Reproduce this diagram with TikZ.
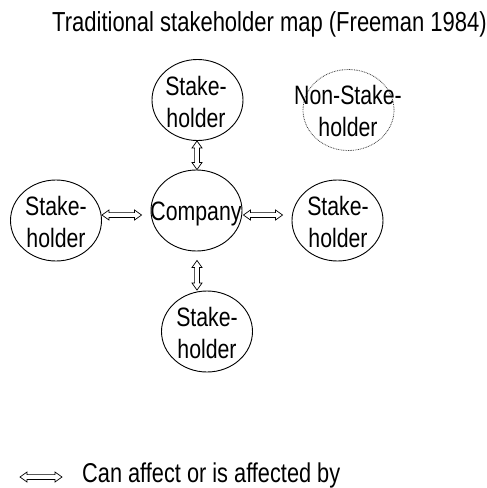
\documentclass[tikz,border=0pt]{standalone}
\usepackage{fontspec}
\setmainfont{Liberation Sans}[FakeStretch=0.8]
\usetikzlibrary{shapes.geometric,calc}
\tikzset{
  holder/.style={draw, ellipse, line width=0.9pt, minimum width=91pt, minimum height=81pt, inner sep=0pt},
  nonholder/.style={holder, line width=0.8pt, draw=black!75, dash pattern=on 0.8pt off 0.9pt},
  htext/.style={align=center, font=\fontsize{26.6}{31.4}\selectfont, inner sep=0pt},
  bigtext/.style={font=\fontsize{27.2}{33}\selectfont, inner sep=0pt},
  gapA/.store in=\gapA, gapB/.store in=\gapB,
  link/.style={gapA=0pt, gapB=0pt, draw, line width=0.7pt, fill=white, line join=miter,
    to path={let \p1=(\tikztostart), \p2=(\tikztotarget),
      \n1={atan2(\y2-\y1,\x2-\x1)}, \n2={veclen(\x2-\x1,\y2-\y1)} in
      ([shift={(\p1)},rotate=\n1]\gapA,0pt)
      -- ([shift={(\p1)},rotate=\n1]\gapA+7pt,5pt)
      -- ([shift={(\p1)},rotate=\n1]\gapA+7pt,2.4pt)
      -- ([shift={(\p1)},rotate=\n1]\n2-\gapB-7pt,2.4pt)
      -- ([shift={(\p1)},rotate=\n1]\n2-\gapB-7pt,5pt)
      -- ([shift={(\p1)},rotate=\n1]\n2-\gapB,0pt)
      -- ([shift={(\p1)},rotate=\n1]\n2-\gapB-7pt,-5pt)
      -- ([shift={(\p1)},rotate=\n1]\n2-\gapB-7pt,-2.4pt)
      -- ([shift={(\p1)},rotate=\n1]\gapA+7pt,-2.4pt)
      -- ([shift={(\p1)},rotate=\n1]\gapA+7pt,-5pt)
      -- cycle}}
}
\begin{document}
\begin{tikzpicture}[x=1pt,y=-1pt]
\useasboundingbox (0,0) rectangle (487,488);
\node[bigtext, font=\fontsize{27.5}{33}\selectfont, anchor=base west] (title) at (52,31.7) {Traditional stakeholder map (Freeman 1984)};
\node[holder] (top) at (197.5,100) {};
\node[holder] (comp) at (196.5,210.5) {};
\node[holder] (left) at (56,220.5) {};
\node[holder] (right) at (337.5,220.5) {};
\node[holder] (bot) at (207,331.5) {};
\node[nonholder] (non) at (348.5,110) {};
\node[htext] (toptext) at (196,102) {Stake-\\holder};
\node[htext] (comptext) at (196,214) {Company};
\node[htext] (lefttext) at (56,222) {Stake-\\holder};
\node[htext] (righttext) at (338,222) {Stake-\\holder};
\node[htext] (bottext) at (207,333) {Stake-\\holder};
\node[htext] (nontext) at (348,111) {Non-Stake-\\holder};
\coordinate (hy) at (0,215);
\coordinate (vx) at (197,0);
\draw[link] (vx |- top.south) to (vx |- comp.north);
\draw[link, gapB=9pt] (left.east |- hy) to (comp.west |- hy);
\draw[link, gapA=1pt, gapB=9pt] (comp.east |- hy) to (right.west |- hy);
\draw[link, gapA=9pt, gapB=0.5pt] (vx |- comp.south) to (vx |- bot.north);
\coordinate (la) at (20,477);
\coordinate (lb) at (62,477);
\draw[link] (la) to (lb);
\node[bigtext, anchor=base west] (legend) at (82,482.5) {Can affect or is affected by};
\end{tikzpicture}
\end{document}
